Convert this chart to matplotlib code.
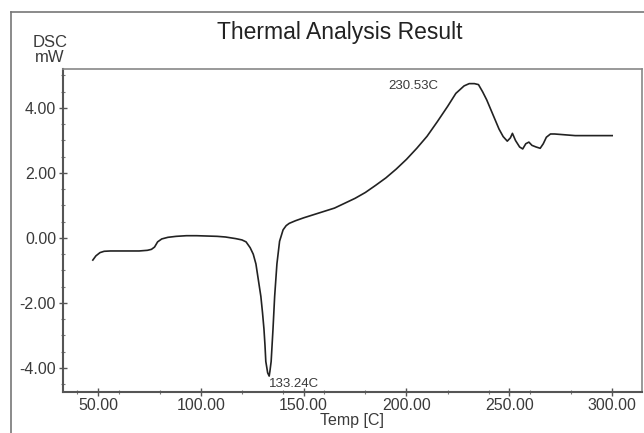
import matplotlib.pyplot as plt
from matplotlib.lines import Line2D
from matplotlib.ticker import MultipleLocator, FixedLocator

plt.rcParams['font.family'] = ['Liberation Sans', 'DejaVu Sans']

# DSC curve
temp = [47.5, 49, 51, 53, 56, 60, 65, 70, 74, 76, 77.5, 79, 81, 84, 88, 93, 98,
        103, 108, 112, 117, 120, 122, 124, 125.5, 126.8, 128, 129.2, 130, 130.7,
        131.2, 131.6, 132.5, 133.24, 133.6, 134.2, 135.1, 135.9, 137, 138.3,
        140, 141.5, 143, 146, 150, 155, 160, 165, 170, 175, 180, 185, 190, 195,
        200, 205, 210, 215, 220, 224, 228, 230.5, 233, 235, 237, 239,
        241, 243, 245, 247, 249, 250.5, 251.5, 253, 255, 256.5, 258, 259.5,
        261, 263, 265, 266.5, 268, 270, 272, 276, 282, 290, 300]
dsc = [-0.68, -0.55, -0.45, -0.41, -0.40, -0.40, -0.40, -0.40, -0.38, -0.35,
       -0.28, -0.12, -0.03, 0.02, 0.05, 0.07, 0.07, 0.06, 0.05, 0.03, -0.02,
       -0.06, -0.12, -0.3, -0.5, -0.8, -1.3, -1.8, -2.3, -2.8, -3.3, -3.8,
       -4.15, -4.25, -4.1, -3.8, -2.8, -1.8, -0.8, -0.1, 0.25, 0.38, 0.45,
       0.53, 0.62, 0.72, 0.82, 0.92, 1.07, 1.22, 1.40, 1.62, 1.85, 2.12,
       2.42, 2.76, 3.13, 3.58, 4.05, 4.45, 4.68, 4.75, 4.75, 4.72, 4.5,
       4.25, 3.95, 3.65, 3.35, 3.12, 2.98, 3.08, 3.22, 3.0, 2.8, 2.74, 2.9,
       2.95, 2.85, 2.8, 2.76, 2.9, 3.1, 3.2, 3.2, 3.18, 3.15, 3.15, 3.15]

peaks = [(133.24, -4.25, '133.24C'), (230.53, 4.75, '230.53C')]

fig = plt.figure(figsize=(6.44, 4.33), dpi=100)
ax = fig.add_axes([63 / 644, 41 / 433, 579 / 644, 323 / 433])

ax.plot(temp, dsc, color='#222222', lw=1.2)
ax.set_xlim(33, 314.5)
ax.set_ylim(-4.74, 5.2)

ax.xaxis.set_major_locator(MultipleLocator(50))
ax.xaxis.set_minor_locator(FixedLocator([40, 60, 80, 120, 140, 160, 180, 220, 240, 260, 280]))
ax.yaxis.set_major_locator(MultipleLocator(2))
ax.yaxis.set_minor_locator(MultipleLocator(0.5))
ax.xaxis.set_major_formatter(lambda v, p: f'{v:.2f}')
ax.yaxis.set_major_formatter(lambda v, p: f'{v:.2f}')
ax.tick_params(which='major', direction='inout', length=6, width=1, color='#555555',
               labelsize=11.5, labelcolor='#3a3a3a', pad=2)
ax.tick_params(which='minor', direction='inout', length=3, width=0.8, color='#777777')
ax.tick_params(axis='x', which='major', pad=1)

for s in ['left', 'bottom']:
    ax.spines[s].set_color('#555555')
    ax.spines[s].set_linewidth(1.5)
for s in ['top', 'right']:
    ax.spines[s].set_color('#888888')
    ax.spines[s].set_linewidth(1.2)

# peak labels
ax.annotate(peaks[0][2], (peaks[0][0], peaks[0][1]), xytext=(0, -6),
            textcoords='offset points', fontsize=9.5, color='#3a3a3a', ha='left', va='center')
ax.annotate(peaks[1][2], (peaks[1][0], peaks[1][1]), xytext=(-58, -2),
            textcoords='offset points', fontsize=9.5, color='#3a3a3a', ha='left', va='center')

ax.set_xlabel('Temp [C]', fontsize=11.5, color='#3a3a3a', labelpad=0)
fig.text(50 / 644, 1 - 50 / 433, 'DSC\nmW', fontsize=12, color='#3a3a3a',
         ha='center', va='center', linespacing=1.0)
fig.text(340 / 644, 1 - 32 / 433, 'Thermal Analysis Result', fontsize=16.5,
         color='#222222', ha='center', va='center')

# outer frame lines
fig.add_artist(Line2D([11 / 644, 1], [1 - 12 / 433, 1 - 12 / 433], color='#777777', lw=1.2))
fig.add_artist(Line2D([11 / 644, 11 / 644], [0, 1 - 12 / 433], color='#777777', lw=1.2))

fig.savefig('out.png', dpi=100)
